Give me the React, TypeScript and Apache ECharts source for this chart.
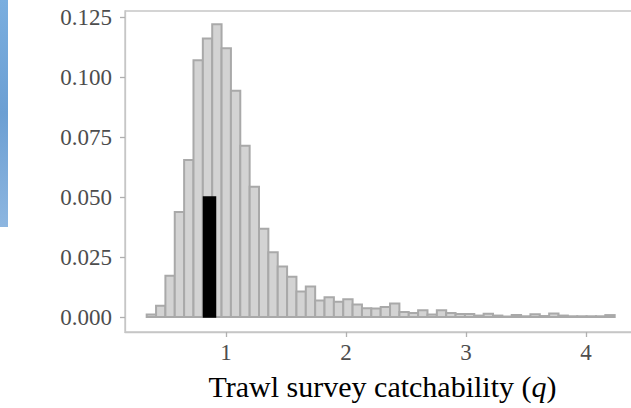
import React, { useEffect, useRef } from "react";
import * as echarts from "echarts";

// Histogram of trawl survey catchability q (density per bin)
const binStart = 0.339;
const binWidth = 0.078;
const density = [
  0.0010, 0.0047, 0.0172, 0.0437, 0.0654, 0.1070, 0.1160, 0.1220, 0.1120, 0.0943,
  0.0714, 0.0543, 0.0368, 0.0270, 0.0210, 0.0168, 0.0106, 0.0127, 0.0069, 0.0082,
  0.0064, 0.0074, 0.0052, 0.0036, 0.0035, 0.0042, 0.0056, 0.0021, 0.0017, 0.0028,
  0.0010, 0.0028, 0.0017, 0.0013, 0.0012, 0.0006, 0.0014, 0.0006, 0.0002, 0.0008,
  0.0003, 0.0011, 0.0004, 0.0015, 0.0006, 0.0003, 0.0003, 0.0003, 0.0003, 0.0008,
];
// Highlighted bar
const markerQ = 0.8625;
const markerWidth = 0.1;
const markerHeight = 0.05;

const xTicks = [1, 2, 3, 4];
const yTicks = [0, 0.025, 0.05, 0.075, 0.1, 0.125];

const FONT = "'Liberation Serif', 'Times New Roman', serif";

export default function App() {
  const ref = useRef<HTMLDivElement>(null);
  useEffect(() => {
    if (!ref.current) return;
    const chart = echarts.init(ref.current, undefined, { renderer: "svg" });
    const histData = density.map((d, i) => [
      binStart + i * binWidth,
      binStart + (i + 1) * binWidth,
      d,
    ]);
    const markerData = [[markerQ - markerWidth / 2, markerQ + markerWidth / 2, markerHeight]];
    const makeRender = (fill: string, stroke: string, lw: number) =>
      (params: any, api: any) => {
        const p0 = api.coord([api.value(0), api.value(2)]);
        const p1 = api.coord([api.value(1), 0]);
        return {
          type: "rect",
          shape: { x: p0[0], y: p0[1], width: p1[0] - p0[0], height: p1[1] - p0[1] },
          style: { fill, stroke, lineWidth: lw },
        };
      };
    chart.setOption({
      animation: false,
      grid: {
        left: 125,
        right: 20,
        top: 11,
        bottom: 76,
        show: true,
        borderColor: "#c6c6c6",
        borderWidth: 1.3,
        backgroundColor: "transparent",
      },
      xAxis: {
        type: "value",
        min: 0.1583,
        max: 4.45,
        splitLine: { show: false },
        axisLine: { show: true, onZero: false, lineStyle: { color: "#c6c6c6", width: 1.3 } },
        axisTick: {
          show: true,
          customValues: xTicks,
          length: 5,
          lineStyle: { color: "#b0b0b0", width: 1.3 },
        },
        axisLabel: {
          customValues: xTicks,
          color: "#4d4d4d",
          fontFamily: FONT,
          fontSize: 23,
          margin: 9,
        },
      },
      yAxis: {
        type: "value",
        min: -0.00625,
        max: 0.1275,
        splitLine: { show: false },
        axisLine: { show: true, onZero: false, lineStyle: { color: "#c6c6c6", width: 1.3 } },
        axisTick: {
          show: true,
          customValues: yTicks,
          length: 5,
          lineStyle: { color: "#b0b0b0", width: 1.3 },
        },
        axisLabel: {
          customValues: yTicks,
          color: "#4d4d4d",
          fontFamily: FONT,
          fontSize: 23,
          margin: 13,
          formatter: (v: number) => v.toFixed(3),
        },
      },
      graphic: [
        {
          type: "rect",
          left: 0,
          top: 0,
          shape: { width: 8, height: 227 },
          style: {
            fill: new echarts.graphic.LinearGradient(0, 0, 0, 1, [
              { offset: 0, color: "#7aaedf" },
              { offset: 0.5, color: "#6c9fd3" },
              { offset: 1, color: "#8db6e0" },
            ]),
          },
        },
        {
          type: "text",
          x: 382.5,
          y: 386,
          style: {
            text: "Trawl survey catchability ({i|q})",
            fontFamily: FONT,
            fontSize: 30,
            fill: "#000",
            textAlign: "center",
            textVerticalAlign: "middle",
            rich: {
              i: { fontFamily: FONT, fontSize: 30, fontStyle: "italic", fill: "#000" },
            },
          },
        },
      ],
      series: [
        {
          type: "custom",
          data: histData,
          encode: { x: [0, 1], y: 2 },
          renderItem: makeRender("#d3d3d3", "#a9a9a9", 2),
        },
        {
          type: "custom",
          data: markerData,
          encode: { x: [0, 1], y: 2 },
          renderItem: makeRender("#000000", "#000000", 1.5),
        },
      ],
    });
    return () => chart.dispose();
  }, []);
  return (
    <div
      style={{
        position: "fixed",
        left: 0,
        top: 0,
        width: 631,
        height: 408,
        overflow: "hidden",
        background: "#fff",
      }}
    >
      <div ref={ref} style={{ width: 660, height: 408 }} />
    </div>
  );
}
